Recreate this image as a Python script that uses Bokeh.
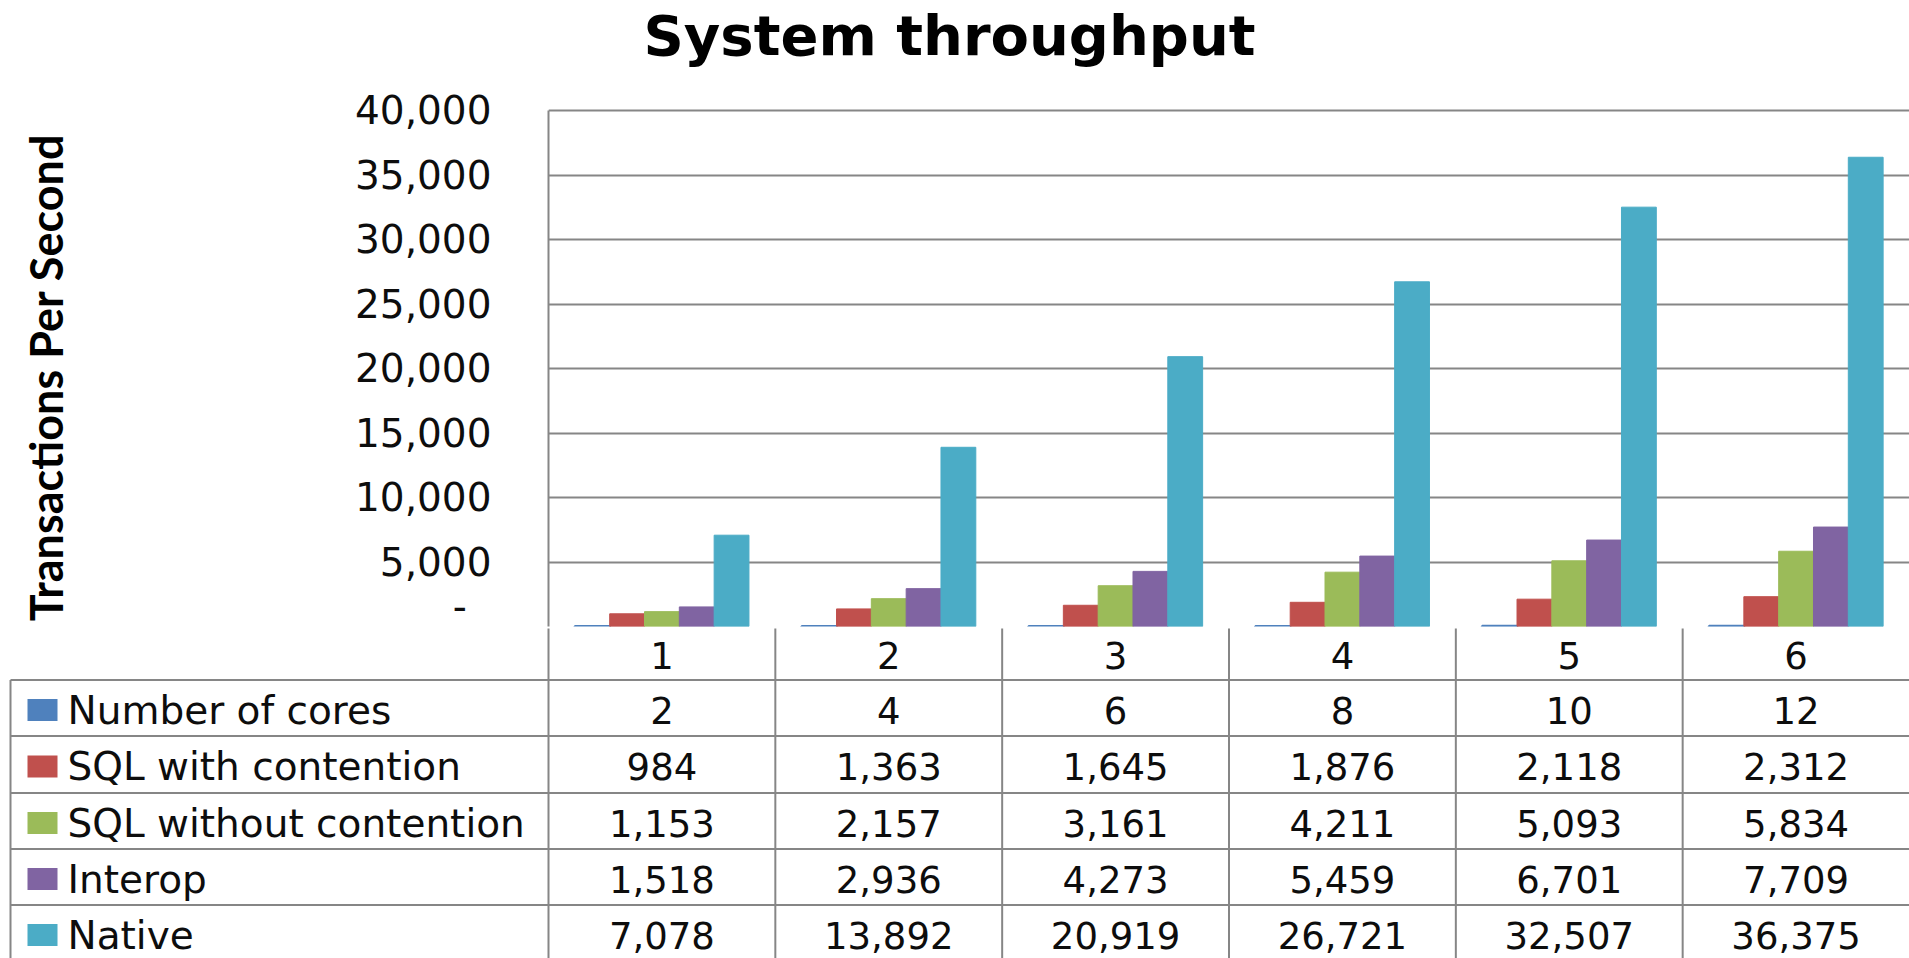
from bokeh.plotting import figure
from bokeh.models import Range1d, FixedTicker, NumeralTickFormatter, ColumnDataSource
from bokeh.layouts import column
from bokeh.embed import file_html
from bokeh.resources import INLINE
from bokeh.core.properties import value

# ---------------- data ----------------
title_text = "System throughput"
y_axis_title = "Transactions Per Second"
categories = ["1", "2", "3", "4", "5", "6"]
series_names = ["Number of cores", "SQL with contention", "SQL without contention", "Interop", "Native"]
number_of_cores = [2, 4, 6, 8, 10, 12]
sql_with_contention = [984, 1363, 1645, 1876, 2118, 2312]
sql_without_contention = [1153, 2157, 3161, 4211, 5093, 5834]
interop = [1518, 2936, 4273, 5459, 6701, 7709]
native = [7078, 13892, 20919, 26721, 32507, 36375]
y_ticks = [0, 5000, 10000, 15000, 20000, 25000, 30000, 35000, 40000]
y_max = 40000

series_values = [number_of_cores, sql_with_contention, sql_without_contention, interop, native]
colors = ["#4F81BD", "#C0504D", "#9BBB59", "#8064A2", "#4BACC6"]

# ---------------- layout constants (pixels) ----------------
W, H = 1909, 958
FRAME_L, FRAME_T, FRAME_B = 548, 110, 626   # plot area (40,000 line at FRAME_T)
HEAD = 26                                   # headroom above the 40,000 line
T_H = FRAME_T - HEAD - 2                    # title strip height
A_H = FRAME_B + 2 - T_H                     # chart figure height
B_H = H - T_H - A_H                         # table figure height
n = len(categories)
unit = (W - FRAME_L) / n                    # pixels per category
px_per_y = (FRAME_B - FRAME_T) / y_max
GRID = "#868686"
TXT = "#0d0d0d"
FONT = "DejaVu Sans"

common = dict(output_backend="svg", toolbar_location=None, outline_line_color=None,
              background_fill_color="white", border_fill_color="white")

# ---------------- title strip ----------------
pT = figure(width=W, height=T_H, x_range=Range1d(0, W), y_range=Range1d(T_H, 0),
            x_axis_location=None, y_axis_location=None,
            min_border_left=0, min_border_right=0, min_border_top=0, min_border_bottom=0, **common)
pT.frame_align = False
pT.xgrid.visible = False
pT.ygrid.visible = False
pT.text(x=[949], y=[2], text=[title_text], text_align="center", text_baseline="top",
        text_font=value(FONT), text_font_style="bold", text_font_size="56px", text_color="#000000")

# ---------------- chart ----------------
pA = figure(width=W, height=A_H, x_range=Range1d(0, n),
            y_range=Range1d(0, y_max + HEAD / px_per_y),
            x_axis_location=None,
            min_border_left=FRAME_L, min_border_right=0, min_border_top=2,
            min_border_bottom=2, **common)
pA.frame_align = False

bar_w = 0.1535
for k, (name, vals, col) in enumerate(zip(series_names, series_values, colors)):
    xs = [i + 0.5 + (k - 2) * bar_w for i in range(n)]
    src = ColumnDataSource(dict(x=xs, top=vals))
    pA.vbar(x="x", top="top", bottom=0, width=bar_w, source=src,
            fill_color=col, line_color=col, line_width=(3 if k == 0 else 1))

pA.xgrid.visible = False
pA.ygrid.ticker = FixedTicker(ticks=y_ticks)
pA.ygrid.grid_line_color = GRID
pA.ygrid.grid_line_width = 2

ax = pA.yaxis[0]
ax.ticker = FixedTicker(ticks=y_ticks)
ax.bounds = (0, y_max)
ax.formatter = NumeralTickFormatter(format="0,0")
ax.major_label_overrides = {0: "-\u00a0\u00a0"}
ax.major_label_text_font = FONT
ax.major_label_text_font_size = "39px"
ax.major_label_text_color = TXT
ax.major_tick_out = 0
ax.major_tick_in = 0
ax.minor_tick_out = 0
ax.minor_tick_in = 0
ax.axis_line_color = GRID
ax.axis_line_width = 2
ax.major_label_standoff = 57
ax.axis_label = y_axis_title + "\u00a0" * 4
ax.axis_label_text_font = "Lato"
ax.axis_label_text_font_style = "bold"
ax.axis_label_text_font_size = "45px"
ax.axis_label_text_color = "#000000"
ax.axis_label_standoff = 279

# ---------------- data table ----------------
LEG_L = (10 - FRAME_L) / unit
LEG_TEXT_X = (67 - FRAME_L) / unit
SW_X = (42 - FRAME_L) / unit
row_b = [0, 53.5, 109.5, 166.5, 222.5, 278.5, 334.5]
row_c = [(row_b[i] + row_b[i + 1]) / 2 + 2 for i in range(len(row_b) - 1)]

pB = figure(width=W, height=B_H, x_range=Range1d(-FRAME_L / unit, n),
            y_range=Range1d(B_H + 2, 2),
            x_axis_location=None, y_axis_location=None,
            min_border_left=0, min_border_right=0, min_border_top=0, min_border_bottom=0, **common)
pB.frame_align = False
pB.xgrid.visible = False
pB.ygrid.visible = False

# vertical lines
vx = list(range(n))
pB.segment(x0=vx, y0=[0] * n, x1=vx, y1=[row_b[-1]] * n, line_color=GRID, line_width=2)
pB.segment(x0=[LEG_L], y0=[row_b[1]], x1=[LEG_L], y1=[row_b[-1]], line_color=GRID, line_width=2)
# horizontal lines
hy = row_b[1:-1]
pB.segment(x0=[LEG_L] * len(hy), y0=hy, x1=[n] * len(hy), y1=hy, line_color=GRID, line_width=2)

# header row
pB.text(x=[i + 0.5 for i in range(n)], y=[row_c[0]] * n, text=categories,
        text_align="center", text_baseline="middle", text_font=value(FONT),
        text_font_size="37px", text_color=TXT)

for r, (name, vals, col) in enumerate(zip(series_names, series_values, colors)):
    yc = row_c[r + 1]
    pB.text(x=[i + 0.5 for i in range(n)], y=[yc] * n, text=[f"{v:,}" for v in vals],
            text_align="center", text_baseline="middle", text_font=value(FONT),
            text_font_size="37px", text_color=TXT)
    pB.text(x=[LEG_TEXT_X], y=[yc], text=[name], text_align="left", text_baseline="middle",
            text_font=value(FONT), text_font_size="39px", text_color=TXT)
    pB.rect(x=[SW_X], y=[yc], width=30, height=22, width_units="screen", height_units="screen",
            fill_color=col, line_color=None)

layout = column(pT, pA, pB, spacing=0)
open("out.html", "w").write(file_html(layout, INLINE))
